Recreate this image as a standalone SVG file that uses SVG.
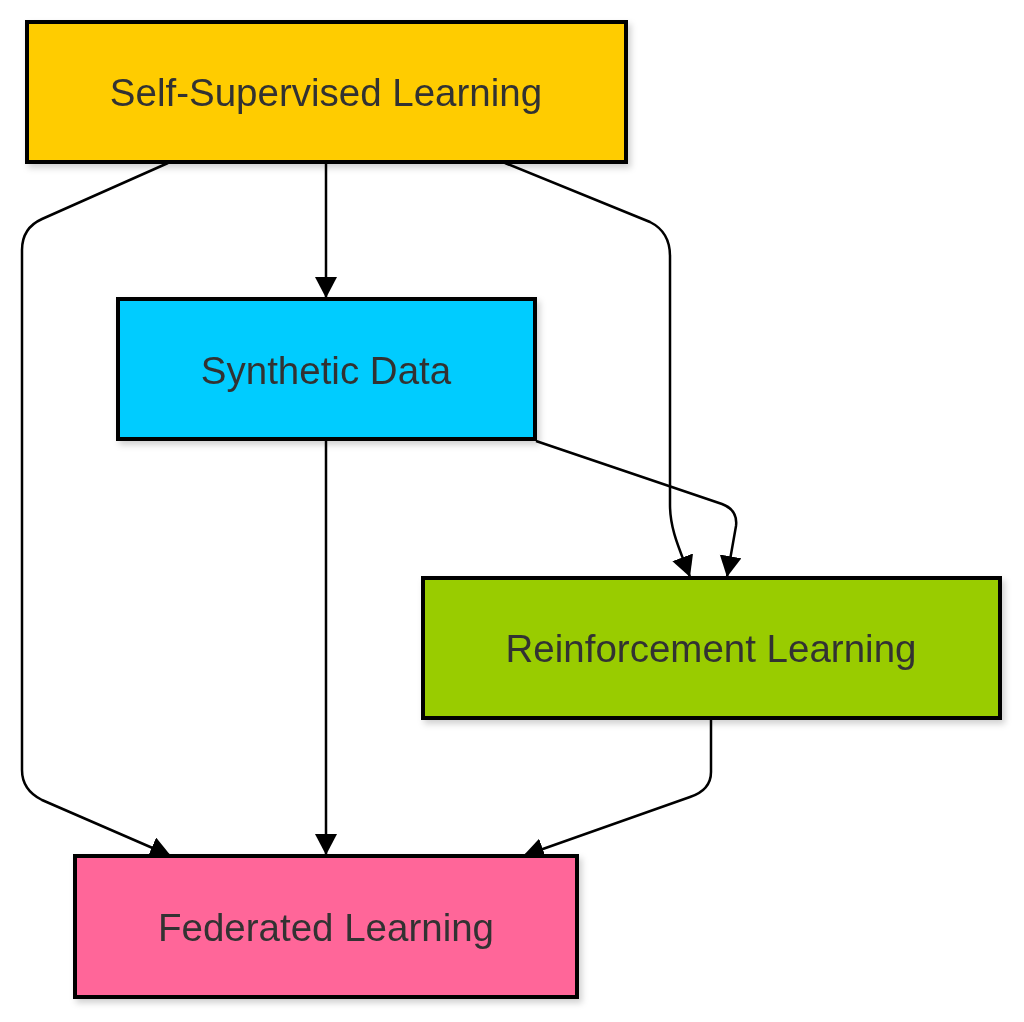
<svg xmlns="http://www.w3.org/2000/svg" width="1024" height="1022" viewBox="0 0 1024 1022">
<style>
.node rect{stroke:#000;stroke-width:4}
.node text{font-family:"Liberation Sans",Arial,sans-serif;font-size:38.5px;fill:#333;text-anchor:middle;dominant-baseline:central}
.edge{fill:none;stroke:#000;stroke-width:2.5}
</style>
<defs>
<marker id="arr" markerUnits="userSpaceOnUse" markerWidth="24" markerHeight="24" refX="21" refY="11" orient="auto">
<path d="M0,0 L21,11 L0,22 z" fill="#000"/>
</marker>
<filter id="sh" x="-10%" y="-10%" width="120%" height="130%">
<feDropShadow dx="3" dy="4" stdDeviation="3" flood-color="#000" flood-opacity="0.18"/>
</filter>
</defs>
<rect width="1024" height="1022" fill="#fff"/>
<g id="connectors">
<path class="edge" d="M168,163 L42,219 Q22,228 22,250 L22,770 Q22,790 42,800 L171,856" marker-end="url(#arr)"/>
<path class="edge" d="M326,163 L326,298" marker-end="url(#arr)"/>
<path class="edge" d="M505,163 L650,222 Q670,232 670,256 L670,505 C670,530 680,550 690,577" marker-end="url(#arr)"/>
<path class="edge" d="M536,441 L722,504 Q738,510 736,526 L727,577" marker-end="url(#arr)"/>
<path class="edge" d="M326,441 L326,855" marker-end="url(#arr)"/>
<path class="edge" d="M711,720 L711,772 Q711,790 690,797 L523,856" marker-end="url(#arr)"/>
</g>
<g id="node-ssl" class="node" filter="url(#sh)">
<rect x="27" y="22" width="599" height="140" fill="#FFCC00"/>
<text x="326" y="92">Self-Supervised Learning</text>
</g>
<g id="node-synthetic" class="node" filter="url(#sh)">
<rect x="118" y="299" width="417" height="140" fill="#00CCFF"/>
<text x="326" y="370">Synthetic Data</text>
</g>
<g id="node-rl" class="node" filter="url(#sh)">
<rect x="423" y="578" width="577" height="140" fill="#99CC00"/>
<text x="711" y="648">Reinforcement Learning</text>
</g>
<g id="node-fl" class="node" filter="url(#sh)">
<rect x="75" y="856" width="502" height="141" fill="#FF6699"/>
<text x="326" y="927">Federated Learning</text>
</g>
</svg>
